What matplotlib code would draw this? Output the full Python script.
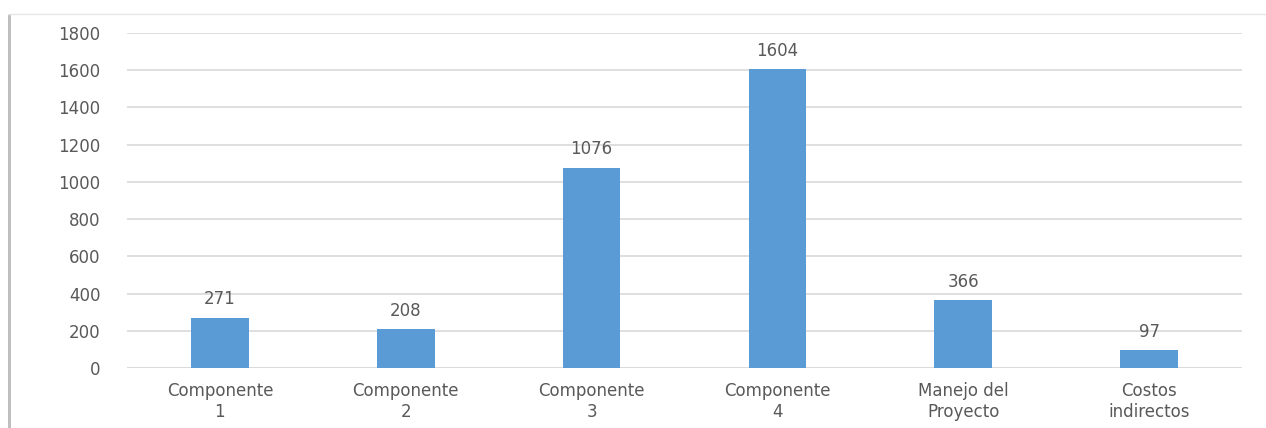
import matplotlib.pyplot as plt
from matplotlib.patches import Rectangle
from matplotlib.lines import Line2D

categories = ["Componente\n1", "Componente\n2", "Componente\n3", "Componente\n4",
              "Manejo del\nProyecto", "Costos\nindirectos"]
values = [271, 208, 1076, 1604, 366, 97]
y_ticks = [0, 200, 400, 600, 800, 1000, 1200, 1400, 1600, 1800]

BAR_COLOR = "#5b9bd5"
TEXT_COLOR = "#595959"
GRID_COLOR = "#d9d9d9"

plt.rcParams["font.family"] = ["DejaVu Sans"]

W, H = 1266, 428
fig = plt.figure(figsize=(W / 100, H / 100), dpi=100)

# plot area in pixels: x 127..1242, y(0)=368, y(1800)=33
left, right = 127, 1242
bottom_px, top_px = 368, 33
ax = fig.add_axes([left / W, 1 - bottom_px / H, (right - left) / W, (bottom_px - top_px) / H])

x = range(len(categories))
ax.bar(x, values, width=0.31, color=BAR_COLOR, zorder=3)
for xi, v in zip(x, values):
    ax.text(xi, v + 50, str(v), ha="center", va="bottom", fontsize=12, color=TEXT_COLOR)

ax.set_xlim(-0.5, len(categories) - 0.5)
ax.set_ylim(0, 1800)
ax.set_yticks(y_ticks)
ax.set_yticklabels([str(t) for t in y_ticks])
ax.set_xticks(list(x))
ax.set_xticklabels(categories, linespacing=1.2)
ax.tick_params(axis="y", length=0, pad=19, labelsize=12, labelcolor=TEXT_COLOR)
ax.tick_params(axis="x", length=0, pad=10, labelsize=12, labelcolor=TEXT_COLOR)
ax.grid(axis="y", color=GRID_COLOR, linewidth=1.2, zorder=0)
for s in ax.spines.values():
    s.set_visible(False)
ax.axhline(0, color=GRID_COLOR, linewidth=1.2, zorder=1)

# outer frame bits of the original screenshot
fig.add_artist(Line2D([8 / W, 1], [1 - 14 / H, 1 - 14 / H], color="#e6e6e6", linewidth=1))
fig.add_artist(Rectangle((8 / W, 0), 3 / W, 1 - 14 / H, color="#bfbfbf", linewidth=0))

fig.savefig("out.png", dpi=100)
